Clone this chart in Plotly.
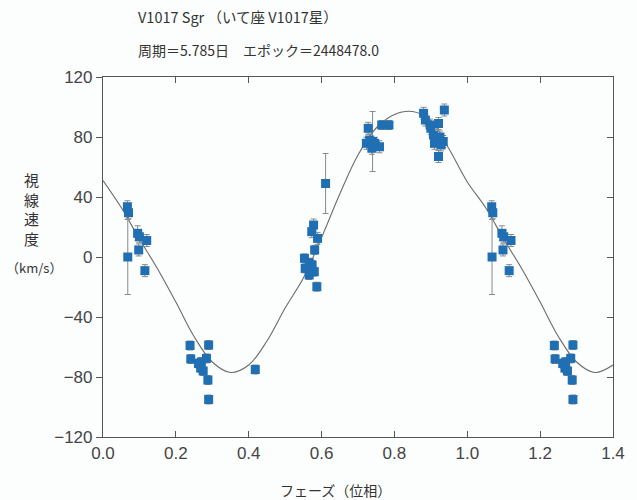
import plotly.graph_objects as go

# ---- observed radial velocities (phase, km/s, error) ----
phase = [0.067, 0.070, 0.068, 0.095, 0.100, 0.120, 0.098, 0.115,
         0.239, 0.290, 0.241, 0.262, 0.268, 0.275, 0.284, 0.288, 0.290, 0.270,
         0.418,
         0.611, 0.578, 0.573, 0.589, 0.581, 0.553, 0.566, 0.574, 0.555, 0.580,
         0.566, 0.587,
         0.728, 0.765, 0.785, 0.732, 0.746, 0.723, 0.759, 0.738, 0.740,
         0.880, 0.937, 0.885, 0.898, 0.921, 0.907, 0.925, 0.934, 0.910, 0.928,
         0.921, 0.900]
velocity = [33.5, 29.5, 0.0, 15.8, 13.5, 11.0, 4.7, -9.1,
            -59.0, -58.7, -68.0, -71.0, -74.0, -76.0, -67.6, -82.0, -95.0, -70.0,
            -75.0,
            49.0, 21.3, 16.9, 12.4, 4.7, -0.9, -3.8, -5.3, -7.6, -9.8,
            -12.0, -19.8,
            85.8, 88.0, 88.0, 78.0, 75.8, 75.8, 73.5, 72.5, 77.0,
            95.8, 98.0, 91.3, 88.0, 89.0, 81.3, 80.0, 77.0, 75.8, 74.7,
            67.0, 85.8]
error = [4, 4, 25, 5, 4, 4, 4, 4,
         3, 3, 3, 3, 3, 3, 3, 3, 3, 3,
         3,
         20, 4, 4, 4, 3, 3, 3, 3, 3, 3,
         3, 3,
         4, 3, 3, 4, 4, 4, 4, 4, 20,
         4, 4, 4, 4, 4, 4, 4, 4, 4, 4,
         4, 4]

# ---- fitted orbit curve ----
curve_phase = [0.00, 0.05, 0.10, 0.15, 0.20, 0.25, 0.30, 0.35, 0.40, 0.45,
               0.50, 0.55, 0.60, 0.65, 0.70, 0.75, 0.80, 0.85, 0.90, 0.95,
               1.00, 1.05, 1.10, 1.15, 1.20, 1.25, 1.30, 1.35, 1.40]
curve_vel = [51, 33, 12, -8, -30, -53, -70, -77, -72, -56,
             -34, -14, 13, 42, 68, 86, 95, 97, 91, 72,
             50, 33, 12, -8, -30, -53, -70, -77, -72]

x_ticks = [0.0, 0.2, 0.4, 0.6, 0.8, 1.0, 1.2, 1.4]
x_tick_text = ["0.0", "0.2", "0.4", "0.6", "0.8", "1.0", "1.2", "1.4"]
y_ticks = [-120, -80, -40, 0, 40, 80, 120]
y_tick_text = ["−120", "−80", "−40", "0", "40", "80", "120"]

title1 = "V1017 Sgr （いて座 V1017星）"
title2 = "周期＝5.785日　エポック＝2448478.0"
x_title = "フェーズ（位相）"
y_title = "視<br>線<br>速<br>度"
y_unit = "（km/s）"

# phase-fold: repeat the points for the second cycle shown on the plot
all_phase, all_vel, all_err = [], [], []
for p, v, e in zip(phase, velocity, error):
    all_phase.append(p); all_vel.append(v); all_err.append(e)
    if p + 1 <= 1.4:
        all_phase.append(p + 1); all_vel.append(v); all_err.append(e)

BLUE = "#1f6fb2"
AX = "#555555"
TXT = "#333333"
JP = "Noto Sans CJK JP"

fig = go.Figure()
fig.add_trace(go.Scatter(
    x=curve_phase, y=curve_vel, mode="lines",
    line=dict(color="#6b6b6b", width=1.1, shape="spline", smoothing=1.0),
    hoverinfo="skip", showlegend=False))
fig.add_trace(go.Scatter(
    x=all_phase, y=all_vel, mode="markers",
    marker=dict(symbol="square", size=9, color=BLUE),
    error_y=dict(type="data", array=all_err, visible=True,
                 color="#8a8a8a", thickness=1, width=3),
    showlegend=False))
# invisible trace carrying the right-hand axis
fig.add_trace(go.Scatter(x=[0.7], y=[0], yaxis="y2", mode="markers",
                         marker=dict(opacity=0), hoverinfo="skip",
                         showlegend=False))

fig.update_layout(
    width=637, height=500,
    margin=dict(l=103, r=14, t=77, b=63),
    paper_bgcolor="#fcfdfd", plot_bgcolor="#fcfdfd",
    font=dict(family="Liberation Sans, Noto Sans CJK JP", color=TXT),
    xaxis=dict(range=[0, 1.4], tickvals=x_ticks, ticktext=x_tick_text,
               ticks="inside", ticklen=6, tickcolor=AX, tickwidth=1,
               showline=True, linecolor=AX, linewidth=1.2, mirror="ticks",
               showgrid=False, zeroline=False,
               tickfont=dict(size=17, color="#444444")),
    yaxis=dict(range=[-120, 120], tickvals=y_ticks, ticktext=y_tick_text,
               ticks="outside", ticklen=6, tickcolor=AX, tickwidth=1,
               showline=True, linecolor=AX, linewidth=1.2, mirror=True,
               showgrid=False, zeroline=False,
               tickfont=dict(size=17, color="#444444")),
    yaxis2=dict(range=[-120, 120], tickvals=y_ticks, overlaying="y",
                side="right", ticks="inside", ticklen=6, tickcolor=AX,
                showticklabels=False, showgrid=False, zeroline=False,
                showline=False),
    annotations=[
        dict(text=title1, xref="paper", yref="paper", x=0.065, y=1.167,
             xanchor="left", yanchor="middle", showarrow=False,
             font=dict(size=14.5, family=JP, color=TXT)),
        dict(text=title2, xref="paper", yref="paper", x=0.065, y=1.075,
             xanchor="left", yanchor="middle", showarrow=False,
             font=dict(size=14, family=JP, color=TXT)),
        dict(text=x_title, xref="paper", yref="paper", x=0.456, y=-0.147,
             xanchor="center", yanchor="middle", showarrow=False,
             font=dict(size=14, family=JP, color=TXT)),
        dict(text=y_title, xref="paper", yref="paper", x=-0.141, y=0.633,
             xanchor="center", yanchor="middle", showarrow=False,
             font=dict(size=15, family=JP, color=TXT)),
        dict(text=y_unit, xref="paper", yref="paper", x=-0.135, y=0.472,
             xanchor="center", yanchor="middle", showarrow=False,
             font=dict(size=13, family=JP, color=TXT)),
    ],
)

fig.write_html("out.html", config={"displayModeBar": False},
               post_script="document.body.style.margin='0';")
